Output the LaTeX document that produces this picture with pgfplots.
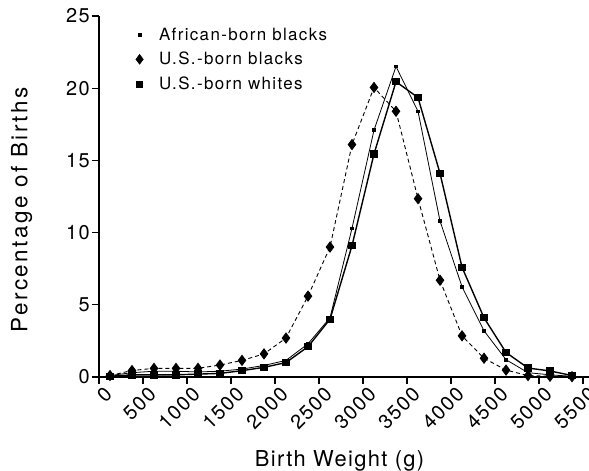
\documentclass[border=0pt]{standalone}
\usepackage{fontspec}
\setmainfont{TeX Gyre Heros}
\usepackage{pgfplots}
\pgfplotsset{compat=1.18}
\begin{document}
\begin{tikzpicture}
\begin{axis}[
  scale only axis,
  width=490bp, height=361bp,
  xmin=0, xmax=5568, ymin=0, ymax=25,
  axis lines=left,
  axis line style={-, line width=1.3bp},
  xtick={0,500,...,5500},
  ytick={0,5,10,15,20,25},
  tick align=outside,
  major tick length=7bp,
  tick style={line width=1.2bp, black},
  /pgf/number format/assume math mode=true,
  /pgf/number format/set thousands separator={},
  ticklabel style={font=\fontsize{20}{22}\selectfont\addfontfeatures{LetterSpace=8}},
  yticklabel style={inner sep=2pt},
  xticklabel style={rotate=45, anchor=north east, inner sep=1pt, xshift=3bp, yshift=-3bp},
  clip=false,
  xlabel={Birth Weight (g)},
  ylabel={Percentage of Births},
  xlabel style={font=\fontsize{22}{24}\selectfont\addfontfeatures{LetterSpace=6},
    at={(axis description cs:0.491,-0.233)}, anchor=center},
  ylabel style={font=\fontsize{22.5}{24}\selectfont\addfontfeatures{LetterSpace=11},
    at={(axis description cs:-0.158,0.463)}, anchor=center, rotate=0},
  legend style={draw=none, fill=none, at={(axis description cs:0.06,0.976)}, anchor=north west,
    font=\fontsize{17}{19}\selectfont\addfontfeatures{LetterSpace=8}, row sep=8.5bp,
    column sep=10.5bp, nodes={inner sep=1bp}},
  legend cell align=left,
]
\addlegendimage{legend image code/.code={\path[draw=none] (-8bp,0) -- (8bp,0); \path[draw=none] plot[only marks, mark=square*, mark size=1.3bp, mark options={draw=black, fill=black}] coordinates {(0,0)};}}
\addlegendentry{African-born blacks}
\addlegendimage{legend image code/.code={\path[draw=none] (-8bp,0) -- (8bp,0); \path[draw=none] plot[only marks, mark=diamond*, mark size=5bp, mark options={draw=black, fill=black}] coordinates {(0,0)};}}
\addlegendentry{U.S.-born blacks}
\addlegendimage{legend image code/.code={\path[draw=none] (-8bp,0) -- (8bp,0); \path[draw=none] plot[only marks, mark=square*, mark size=3bp, mark options={draw=black, fill=black}] coordinates {(0,0)};}}
\addlegendentry{U.S.-born whites}

% U.S.-born whites
\addplot[forget plot, black, line width=1.4bp, mark=square*, mark size=3bp] coordinates {
(125,0.05) (375,0.15) (625,0.15) (875,0.15) (1125,0.2) (1375,0.25) (1625,0.44) (1875,0.67)
(2125,1.0) (2375,2.1) (2625,4.0) (2875,9.1) (3125,15.45) (3375,20.45) (3625,19.35)
(3875,14.1) (4125,7.6) (4375,4.1) (4625,1.7) (4875,0.62) (5125,0.42) (5375,0.1)
};
% African-born blacks
\addplot[forget plot, black, line width=0.8bp, mark=square*, mark size=1.3bp] coordinates {
(125,0.1) (375,0.3) (625,0.4) (875,0.4) (1125,0.35) (1375,0.4) (1625,0.55) (1875,0.8)
(2125,1.15) (2375,2.3) (2625,4.1) (2875,10.3) (3125,17.1) (3375,21.5) (3625,18.4)
(3875,10.8) (4125,6.25) (4375,3.2) (4625,1.2) (4875,0.3) (5125,0.15) (5375,0.05)
};
% U.S.-born blacks
\addplot[forget plot, black, line width=0.9bp, dash pattern=on 4bp off 3bp, mark=diamond*, mark size=5bp, mark options={solid}] coordinates {
(125,0.1) (375,0.45) (625,0.6) (875,0.6) (1125,0.6) (1375,0.83) (1625,1.15) (1875,1.6)
(2125,2.7) (2375,5.6) (2625,9.0) (2875,16.1) (3125,20.05) (3375,18.4) (3625,12.35)
(3875,6.7) (4125,2.85) (4375,1.3) (4625,0.48) (4875,0.1) (5125,0.05) (5375,0.02)
};
\end{axis}
\pgfresetboundingbox
\path (-99bp,-94bp) rectangle (490bp,377bp);
\end{tikzpicture}
\end{document}
